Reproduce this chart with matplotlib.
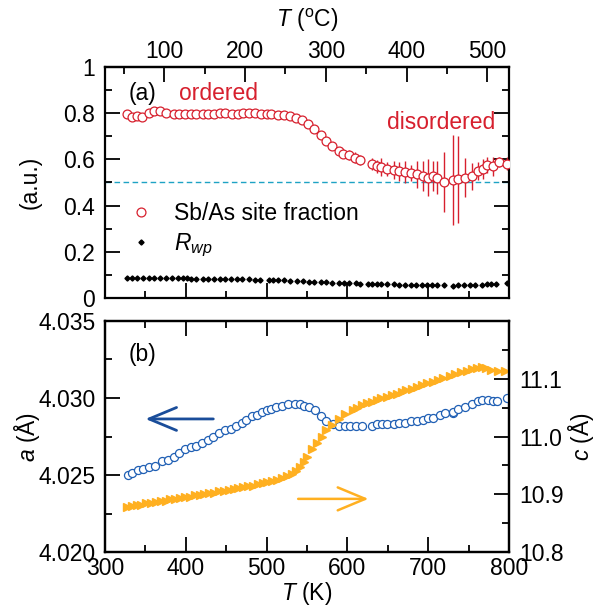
import numpy as np
import matplotlib
matplotlib.use("Agg")
import matplotlib.pyplot as plt
from matplotlib.ticker import MultipleLocator, FixedLocator, FormatStrFormatter, FuncFormatter

# Sb/As site fraction vs temperature (K)
frac_T = [327, 333, 340, 346, 354, 361, 368, 376,
          385, 392, 399, 406, 413, 421, 428, 435,
          442, 449, 457, 464, 471, 478, 486, 493,
          500, 506, 514, 522, 529, 536, 544, 551,
          558, 567, 574, 581, 590, 595, 602, 609,
          616, 630, 636, 642, 649, 657, 664, 671,
          679, 686, 693, 700, 706, 711, 720, 730,
          737, 746, 754, 762, 768, 773, 780, 788,
          797]
frac = [0.795, 0.784, 0.787, 0.784, 0.801, 0.810, 0.810, 0.801,
        0.798, 0.797, 0.797, 0.798, 0.797, 0.798, 0.798, 0.798,
        0.799, 0.799, 0.798, 0.798, 0.800, 0.800, 0.799, 0.797,
        0.795, 0.795, 0.792, 0.790, 0.787, 0.781, 0.770, 0.753,
        0.732, 0.704, 0.680, 0.657, 0.636, 0.625, 0.618, 0.608,
        0.596, 0.579, 0.570, 0.567, 0.560, 0.553, 0.548, 0.545,
        0.541, 0.536, 0.527, 0.521, 0.527, 0.521, 0.502, 0.510,
        0.513, 0.521, 0.527, 0.550, 0.560, 0.575, 0.570, 0.589,
        0.582]
frac_err = [0.005, 0.005, 0.005, 0.005, 0.005, 0.005, 0.005, 0.005,
            0.005, 0.005, 0.005, 0.005, 0.005, 0.005, 0.005, 0.005,
            0.005, 0.005, 0.005, 0.005, 0.005, 0.005, 0.005, 0.005,
            0.006, 0.006, 0.007, 0.007, 0.008, 0.008, 0.010, 0.010,
            0.012, 0.012, 0.015, 0.015, 0.018, 0.020, 0.022, 0.022,
            0.022, 0.025, 0.027, 0.040, 0.030, 0.040, 0.040, 0.047,
            0.035, 0.058, 0.065, 0.080, 0.065, 0.072, 0.130, 0.195,
            0.190, 0.083, 0.058, 0.040, 0.043, 0.036, 0.040, 0.020,
            0.030]

# weighted profile R factor
rwp_T = [327, 333, 340, 347, 354, 361, 368, 376, 383, 390, 397, 401,
         406, 413, 421, 428, 435, 442, 449, 456, 463, 470, 478, 485,
         492, 503, 508, 514, 522, 529, 537, 545, 553, 559, 567, 574,
         581, 589, 596, 602, 611, 616, 625, 630, 636, 642, 649, 657,
         664, 671, 678, 685, 692, 699, 704, 711, 719, 730, 737, 744,
         751, 758, 767, 773, 778, 784, 797]
rwp = [0.088, 0.088, 0.087, 0.087, 0.087, 0.087, 0.086, 0.086, 0.086, 0.085, 0.085, 0.085,
       0.084, 0.084, 0.083, 0.083, 0.083, 0.082, 0.082, 0.081, 0.081, 0.080, 0.080, 0.079,
       0.079, 0.078, 0.078, 0.077, 0.076, 0.075, 0.074, 0.072, 0.071, 0.070, 0.069, 0.067,
       0.065, 0.064, 0.064, 0.063, 0.063, 0.062, 0.061, 0.061, 0.060, 0.060, 0.059, 0.059,
       0.058, 0.058, 0.057, 0.057, 0.056, 0.056, 0.055, 0.055, 0.054, 0.053, 0.054, 0.054,
       0.056, 0.057, 0.058, 0.060, 0.061, 0.062, 0.066]

# lattice parameter a (left axis)
a_T = [328, 334, 341, 347, 354, 362, 370, 378, 385, 392, 399, 406,
       413, 420, 427, 434, 441, 449, 456, 462, 469, 475, 482, 488,
       494, 500, 506, 512, 519, 527, 535, 541, 546, 552, 560, 567,
       574, 582, 590, 597, 603, 611, 618, 630, 637, 643, 649, 657,
       664, 671, 679, 686, 693, 700, 706, 714, 721, 730, 731, 737,
       745, 754, 762, 767, 774, 780, 785, 797]
a_par = [4.0250, 4.0251, 4.0253, 4.0254, 4.0255, 4.0256, 4.0259, 4.0260, 4.0262, 4.0264, 4.0267, 4.0268,
         4.0269, 4.0271, 4.0273, 4.0275, 4.0277, 4.0279, 4.0280, 4.0282, 4.0284, 4.0286, 4.0288, 4.0289,
         4.0291, 4.0292, 4.0293, 4.0294, 4.0295, 4.0296, 4.0296, 4.0296, 4.0295, 4.0294, 4.0292, 4.0288,
         4.0285, 4.0283, 4.0282, 4.0282, 4.0282, 4.0282, 4.0282, 4.0282, 4.0283, 4.0283, 4.0283, 4.0283,
         4.0284, 4.0284, 4.0285, 4.0285, 4.0286, 4.0287, 4.0287, 4.0289, 4.0290, 4.0290, 4.0291, 4.0293,
         4.0294, 4.0296, 4.0298, 4.0299, 4.0299, 4.0298, 4.0298, 4.0300]

# lattice parameter c (right axis)
c_T = [327, 333, 339, 345, 351, 357, 363, 369, 375, 381, 387, 393,
       399, 405, 411, 417, 423, 429, 435, 441, 447, 453, 459, 465,
       471, 477, 483, 489, 495, 501, 507, 513, 519, 525, 531, 536,
       541, 546, 550, 556, 562, 568, 574, 581, 589, 597, 607, 612,
       618, 624, 630, 636, 642, 649, 655, 661, 667, 673, 680, 686,
       692, 699, 706, 712, 718, 727, 733, 740, 748, 754, 760, 766,
       772, 777, 786, 795]
c_par = [10.878, 10.879, 10.881, 10.882, 10.884, 10.885, 10.886, 10.888, 10.889, 10.891, 10.892, 10.894,
         10.895, 10.896, 10.898, 10.899, 10.901, 10.902, 10.903, 10.905, 10.906, 10.908, 10.909, 10.911,
         10.912, 10.914, 10.915, 10.917, 10.919, 10.921, 10.923, 10.925, 10.928, 10.931, 10.935, 10.941,
         10.948, 10.956, 10.964, 10.978, 10.988, 11.000, 11.011, 11.020, 11.031, 11.039, 11.046, 11.050,
         11.055, 11.058, 11.060, 11.063, 11.066, 11.068, 11.071, 11.074, 11.077, 11.080, 11.083, 11.086,
         11.089, 11.092, 11.095, 11.098, 11.101, 11.105, 11.108, 11.111, 11.114, 11.117, 11.119, 11.121,
         11.118, 11.115, 11.114, 11.114]

RED = "#d7202e"
BLUE = "#1f5fb4"
DARKBLUE = "#1a4d9a"
ORANGE = "#ffb021"
CYAN = "#1ea3c4"

plt.rcParams["font.family"] = ["Liberation Sans", "DejaVu Sans"]
plt.rcParams["font.size"] = 16.5
plt.rcParams["mathtext.fontset"] = "custom"
plt.rcParams["mathtext.rm"] = "Liberation Sans"
plt.rcParams["mathtext.it"] = "Liberation Sans:italic"
plt.rcParams["axes.linewidth"] = 1.6


def style_ticks(ax, **kw):
    ax.tick_params(which="both", direction="in", width=1.3, **kw)
    ax.tick_params(which="major", length=10.5)
    ax.tick_params(which="minor", length=5)


fig = plt.figure(figsize=(5.96, 6.06), dpi=100)
ax1 = fig.add_axes([0.1762, 0.5083, 0.678, 0.3812])
ax2 = fig.add_axes([0.1762, 0.0891, 0.678, 0.3812])

# ---- (a) site fraction ----
ax1.axhline(0.5, color=CYAN, ls=(0, (4, 2.5)), lw=1.0, zorder=1)
ax1.errorbar(frac_T, frac, yerr=frac_err, fmt="none", ecolor=RED, elinewidth=1.0, capsize=0, zorder=2)
ax1.plot(frac_T, frac, "o", ms=6.4, mfc="white", mec=RED, mew=0.9, zorder=3, label="Sb/As site fraction")
ax1.plot(rwp_T, rwp, "D", ms=2.6, color="black", zorder=3, label="$R_{wp}$")

ax1.set_xlim(300, 800)
ax1.set_ylim(0, 1)
ax1.xaxis.set_major_locator(MultipleLocator(100))
ax1.xaxis.set_minor_locator(MultipleLocator(50))
ax1.yaxis.set_major_locator(MultipleLocator(0.2))
ax1.yaxis.set_minor_locator(MultipleLocator(0.1))
ax1.yaxis.set_major_formatter(FuncFormatter(lambda v, p: "%g" % round(v, 2)))
ax1.set_xticklabels([])
style_ticks(ax1, left=True, right=True, bottom=True, top=False, labelbottom=False, pad=7)
ax1.set_ylabel("(a.u.)", labelpad=16)

top = ax1.secondary_xaxis("top", functions=(lambda k: k - 273.15, lambda c: c + 273.15))
top.xaxis.set_major_locator(MultipleLocator(100))
top.xaxis.set_minor_locator(MultipleLocator(50))
top.tick_params(which="both", direction="in", width=1.3, pad=3)
top.tick_params(which="major", length=10.5)
top.tick_params(which="minor", length=5)
top.set_xlabel(r"$T$ ($^{\rm o}$C)", labelpad=9.5)

ax1.text(346, 0.886, "(a)", ha="center", va="center")
ax1.text(441, 0.886, "ordered", color=RED, ha="center", va="center")
ax1.text(716, 0.761, "disordered", color=RED, ha="center", va="center")

ax1.legend(loc="upper left", bbox_to_anchor=(0.035, 0.465), frameon=False,
           handlelength=0.9, handletextpad=1.0, labelspacing=0.3, borderpad=0)

# ---- (b) lattice parameters ----
ax2.plot(a_T, a_par, "o", ms=5.8, mfc="white", mec=BLUE, mew=0.9, zorder=3)
ax2.set_xlim(300, 800)
ax2.set_ylim(4.020, 4.035)
ax2.xaxis.set_major_locator(MultipleLocator(100))
ax2.xaxis.set_minor_locator(MultipleLocator(50))
ax2.yaxis.set_major_locator(MultipleLocator(0.005))
ax2.yaxis.set_minor_locator(MultipleLocator(0.0025))
ax2.yaxis.set_major_formatter(FormatStrFormatter("%.3f"))
style_ticks(ax2, left=True, right=False, bottom=True, top=True, pad=7)
ax2.tick_params(axis="x", pad=3.5)
ax2.set_xlabel(r"$T$ (K)", labelpad=0)
ax2.set_ylabel(r"$a$ (Å)", labelpad=-2.5)

ax3 = ax2.twinx()
ax3.plot(c_T, c_par, ">", ms=6.2, color=ORANGE, mec=ORANGE, zorder=2)
ax3.set_ylim(10.8, 11.2)
ax3.yaxis.set_major_locator(FixedLocator([10.8, 10.9, 11.0, 11.1]))
ax3.yaxis.set_minor_locator(FixedLocator([10.85, 10.95, 11.05, 11.15]))
ax3.yaxis.set_major_formatter(FormatStrFormatter("%.1f"))
style_ticks(ax3, right=True, left=False, pad=7)
ax3.set_ylabel(r"$c$ (Å)", labelpad=2)
for s in ax3.spines.values():
    s.set_linewidth(1.6)

# arrows pointing to the axis each curve belongs to
arrow_style = "->,head_length=1.2,head_width=0.5"
ax2.text(346, 4.0328, "(b)", ha="center", va="center")
ax2.annotate("", xy=(350, 4.02864), xytext=(434, 4.02864),
             arrowprops=dict(arrowstyle=arrow_style, color=DARKBLUE, lw=2, shrinkA=0, shrinkB=0))
ax3.annotate("", xy=(626, 10.892), xytext=(539, 10.892),
             arrowprops=dict(arrowstyle=arrow_style, color=ORANGE, lw=1.8, shrinkA=0, shrinkB=0))

fig.savefig("out.png", dpi=100)
